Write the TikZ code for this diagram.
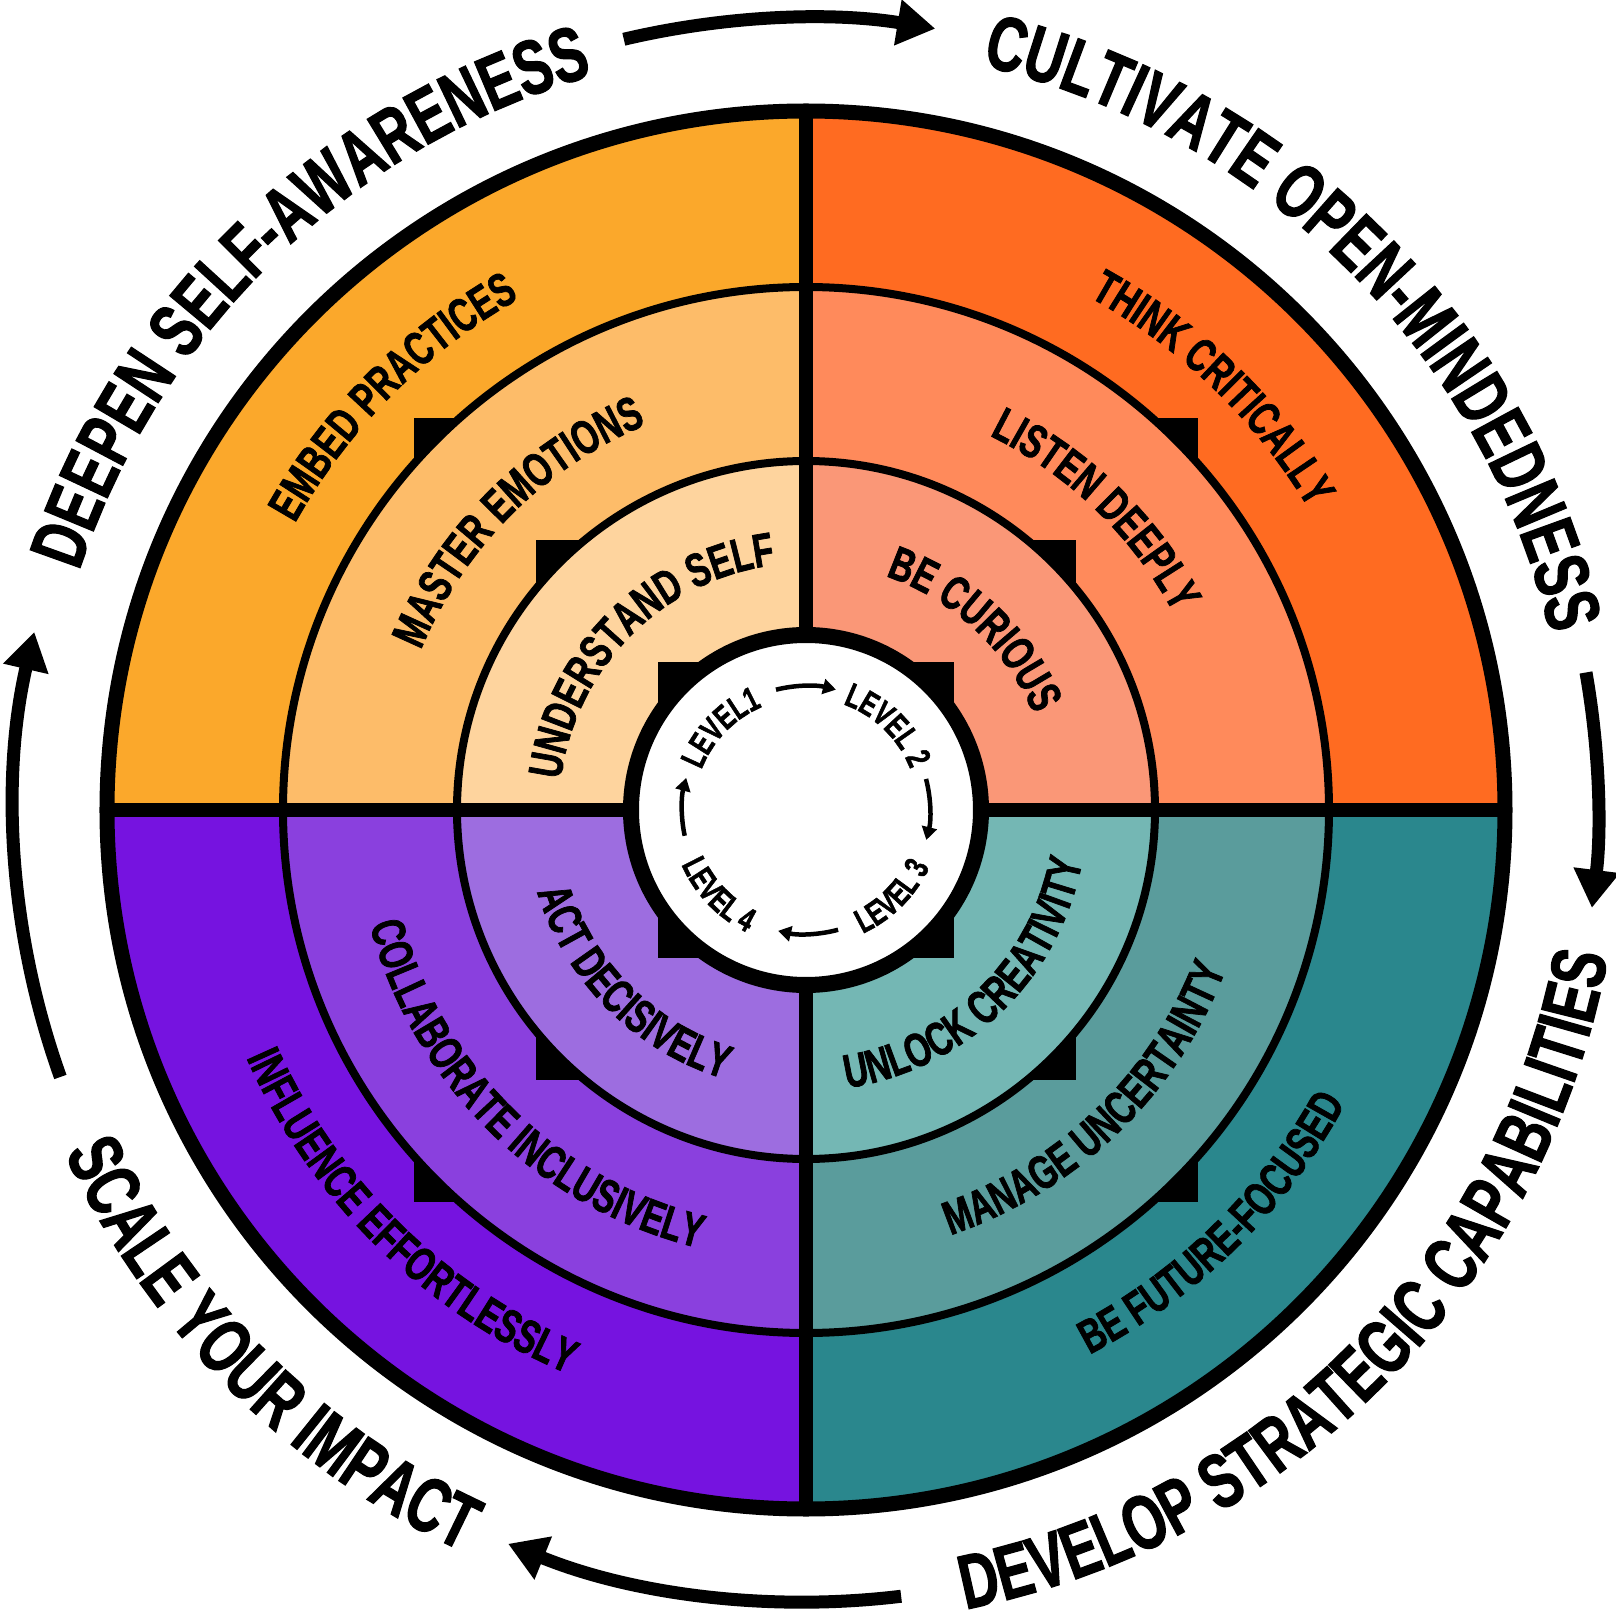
\documentclass[tikz,border=0pt]{standalone}
\usepackage{fontspec}
\setmainfont{Liberation Sans}
\newfontfamily\wheelfont{Liberation Sans}[FakeStretch=0.7,FakeBold=1.5]
\usetikzlibrary{decorations.text,arrows.meta}
\definecolor{yel1}{HTML}{FBA82B}\definecolor{yel2}{HTML}{FDBC69}\definecolor{yel3}{HTML}{FED49E}
\definecolor{ora1}{HTML}{FF6B21}\definecolor{ora2}{HTML}{FF8A5B}\definecolor{ora3}{HTML}{FA9777}
\definecolor{tea1}{HTML}{2A878D}\definecolor{tea2}{HTML}{5A9C9C}\definecolor{tea3}{HTML}{74B7B4}
\definecolor{pur1}{HTML}{7613E0}\definecolor{pur2}{HTML}{8A40DE}\definecolor{pur3}{HTML}{9D6DE0}
\newcommand\biglabel{\wheelfont\bfseries\fontsize{77}{80}\selectfont}
\newcommand\ringlabel{\wheelfont\bfseries\fontsize{47.5}{50}\selectfont}
\newcommand\levellabel{\wheelfont\bfseries\fontsize{34}{36}\selectfont}
\tikzset{
  bigarrow/.style={line width=13, -{Triangle[length=38pt,width=44pt]}},
  levelarrow/.style={line width=4.5, -{Triangle[length=13pt,width=15pt]}},
  arctext/.style 2 args={decorate, decoration={text along path, text align=center, text={|#1|#2}}}
}
\newcommand\cwtext[4]{\path[arctext={#3}{#4}] (#1+60:#2) arc (#1+60:#1-60:#2);}
\newcommand\ccwtext[4]{\path[arctext={#3}{#4}] (#1-60:#2) arc (#1-60:#1+60:#2);}
\begin{document}
\begin{tikzpicture}[x=1pt,y=1pt]
  \useasboundingbox (-806,-807) rectangle (809,810);
  \foreach \r/\s/\k in {699/392/1,523/270/2,349/148/3}{
    \fill[ora\k] (0,0) -- (0:\r) arc (0:90:\r) -- cycle;
    \fill[yel\k] (0,0) -- (90:\r) arc (90:180:\r) -- cycle;
    \fill[pur\k] (0,0) -- (180:\r) arc (180:270:\r) -- cycle;
    \fill[tea\k] (0,0) -- (270:\r) arc (270:360:\r) -- cycle;
    \draw[line width=8] (0,0) circle (\r);
    \fill (-\s,-\s) rectangle (\s,\s);
  }
  \draw[line width=14] (0,-699) -- (0,699) (-699,0) -- (699,0);
  \draw[line width=16, fill=white] (0,0) circle (175);
  \draw[line width=15] (0,0) circle (699);
  \cwtext{134}{765}{\biglabel}{DEEPEN SELF-AWARENESS}
  \cwtext{45}{765}{\biglabel}{CULTIVATE OPEN-MINDEDNESS}
  \ccwtext{-44.5}{815}{\biglabel}{DEVELOP STRATEGIC CAPABILITIES}
  \ccwtext{225}{817}{\biglabel}{SCALE YOUR IMPACT}
  \draw[bigarrow] (103.3:792) arc (103.3:80.6:792);
  \draw[bigarrow] (10:792) arc (10:-7.1:792);
  \draw[bigarrow] (-83.1:792) arc (-83.1:-112.1:792);
  \draw[bigarrow] (199.7:792) arc (199.7:167:792);
  \cwtext{135}{586}{\ringlabel}{EMBED PRACTICES}
  \cwtext{135}{417}{\ringlabel}{MASTER EMOTIONS}
  \cwtext{135}{247}{\ringlabel}{UNDERSTAND SELF}
  \cwtext{46}{586}{\ringlabel}{THINK CRITICALLY}
  \cwtext{46}{417}{\ringlabel}{LISTEN DEEPLY}
  \cwtext{47}{247}{\ringlabel}{BE CURIOUS}
  \ccwtext{-45.5}{614}{\ringlabel}{BE FUTURE-FOCUSED}
  \ccwtext{-46}{449}{\ringlabel}{MANAGE UNCERTAINTY}
  \ccwtext{-46}{281}{\ringlabel}{UNLOCK CREATIVITY}
  \ccwtext{225.5}{612}{\ringlabel}{INFLUENCE EFFORTLESSLY}
  \ccwtext{225.5}{451}{\ringlabel}{COLLABORATE INCLUSIVELY}
  \ccwtext{225}{281}{\ringlabel}{ACT DECISIVELY}
  \cwtext{136}{112}{\levellabel}{LEVEL1}
  \cwtext{46}{112}{\levellabel}{LEVEL 2}
  \ccwtext{-45}{136}{\levellabel}{LEVEL 3}
  \ccwtext{224}{136}{\levellabel}{LEVEL 4}
  \draw[levelarrow] (104:124) arc (104:76:124);
  \draw[levelarrow] (14.5:124) arc (14.5:-14:124);
  \draw[levelarrow] (-75:124) arc (-75:-103:124);
  \draw[levelarrow] (192:124) arc (192:165:124);
\end{tikzpicture}
\end{document}
